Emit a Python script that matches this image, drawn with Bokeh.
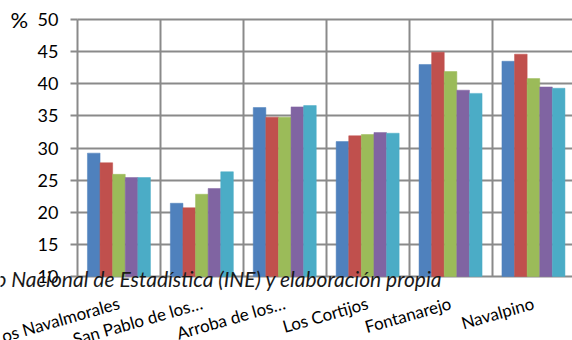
from bokeh.plotting import figure
from bokeh.models import Range1d, FixedTicker, Label
from bokeh.embed import file_html
from bokeh.resources import INLINE
from bokeh.core.properties import value

# ---- data ----
categories = ["Los Navalmorales", "San Pablo de los Montes", "Arroba de los Montes",
              "Los Cortijos", "Fontanarejo", "Navalpino"]
cat_labels = ["Los Navalmorales", "San Pablo de los…", "Arroba de los…",
              "Los Cortijos", "Fontanarejo", "Navalpino"]
serie1 = [29.2, 21.4, 36.3, 31.0, 43.0, 43.5]
serie2 = [27.7, 20.7, 34.8, 31.9, 44.9, 44.6]
serie3 = [25.9, 22.8, 34.8, 32.1, 41.9, 40.8]
serie4 = [25.4, 23.7, 36.4, 32.4, 39.0, 39.5]
serie5 = [25.4, 26.3, 36.6, 32.3, 38.5, 39.3]
series = [serie1, serie2, serie3, serie4, serie5]
colors = ["#4F81BD", "#C0504D", "#9BBB59", "#8064A2", "#4BACC6"]
y_ticks = [10, 15, 20, 25, 30, 35, 40, 45, 50]
y_label = "%"
source_note = "o Nacional de Estadística (INE) y elaboración propia"

FONT = "Lato"
GRAY = "#8a8a8a"
W, H = 572, 340
AX_X, TOP_Y, BOT_Y = 77, 19, 276          # pixel positions of the plot area
n = len(categories)
ymin, ymax = y_ticks[0], y_ticks[-1]
px_x = 82.9                                # pixels per category
px_y = (BOT_Y - TOP_Y) / (ymax - ymin)     # pixels per unit

p = figure(width=W, height=H,
           x_range=Range1d(-AX_X / px_x, (W - AX_X) / px_x),
           y_range=Range1d(ymin - (H - BOT_Y) / px_y, ymax + TOP_Y / px_y),
           output_backend="svg", toolbar_location=None,
           min_border_left=0, min_border_right=0, min_border_top=0, min_border_bottom=0)
p.outline_line_color = None
p.background_fill_color = "white"
p.border_fill_color = "white"

bar_w = 0.152
nser = len(series)
for k, (vals, col) in enumerate(zip(series, colors)):
    off = (k - (nser - 1) / 2) * bar_w
    xs = [i + 0.5 + off for i in range(n)]
    p.vbar(x=xs, top=vals, bottom=ymin, width=bar_w, fill_color=col, line_color=col, line_width=0.5)

# axes
p.xaxis.visible = False

p.yaxis.fixed_location = 0
p.yaxis.bounds = (ymin, ymax)
p.yaxis.ticker = FixedTicker(ticks=y_ticks)
p.yaxis.major_tick_out = 7
p.yaxis.major_tick_in = 0
p.yaxis.major_tick_line_color = GRAY
p.yaxis.major_tick_line_width = 2
p.yaxis.minor_tick_line_color = None
p.yaxis.axis_line_color = GRAY
p.yaxis.axis_line_width = 2
p.yaxis.major_label_text_font = FONT
p.yaxis.major_label_text_font_size = "18px"
p.yaxis.major_label_text_color = "black"
p.yaxis.major_label_standoff = 12

boundaries = list(range(1, n + 1))
p.xgrid.ticker = FixedTicker(ticks=boundaries)
p.xgrid.cross_bounds = (ymin, ymax)
p.xgrid.grid_line_color = GRAY
p.xgrid.grid_line_width = 2
p.ygrid.ticker = FixedTicker(ticks=y_ticks)
p.ygrid.cross_bounds = (0, n + 1)
p.ygrid.grid_line_color = GRAY
p.ygrid.grid_line_width = 2

# category labels (rotated)
p.text(x=[i + 0.5 for i in range(n)], y=[ymin] * n, text=cat_labels,
       angle=0.28, text_align="right", text_baseline="middle", y_offset=26,
       text_font=value(FONT), text_font_size="17px", text_color="black")

# % label
p.add_layout(Label(x=0, y=ymax, x_offset=-67, text=y_label, text_font=FONT,
                   text_font_size="22px", text_align="left", text_baseline="middle",
                   text_color="black"))

# overlapping source note
p.add_layout(Label(x=0, y=ymin, x_offset=365, y_offset=-2, text=source_note,
                   text_font=FONT, text_font_size="21px", text_font_style="italic",
                   text_align="right", text_baseline="alphabetic", text_color="#1a1a1a"))

open("out.html", "w").write(file_html(p, INLINE))
